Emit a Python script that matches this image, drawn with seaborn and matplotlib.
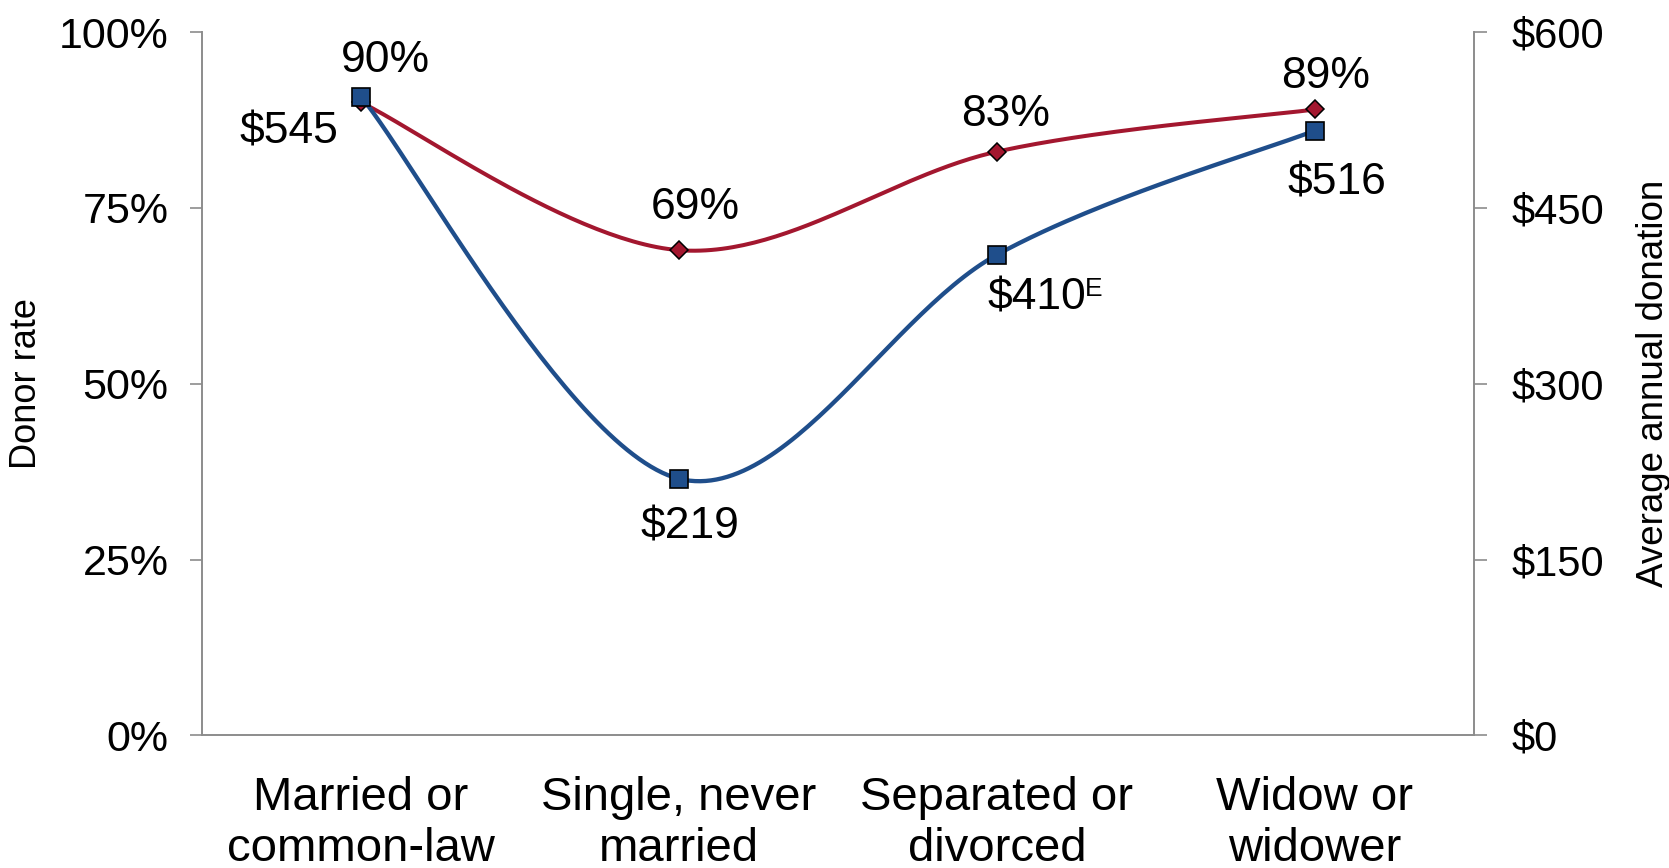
import numpy as np
import pandas as pd
import matplotlib
matplotlib.use("Agg")
import matplotlib.pyplot as plt
import seaborn as sns

# Data
categories = ["Married or\ncommon-law", "Single, never\nmarried", "Separated or\ndivorced", "Widow or\nwidower"]
donor_rate = [90, 69, 83, 89]          # percent
avg_donation = [545, 219, 410, 516]    # dollars
rate_labels = ["90%", "69%", "83%", "89%"]
donation_labels = ["$545", "$219", "$410", "$516"]
donation_flags = ["", "", "E", ""]
left_ticks = [0, 25, 50, 75, 100]
right_ticks = [0, 150, 300, 450, 600]

RED = "#A3172F"
BLUE = "#1F4E8B"
GREY = "#8C8C8C"

sns.set_theme(style="white")
plt.rcParams["font.family"] = ["Liberation Sans", "DejaVu Sans"]
plt.rcParams["text.color"] = "black"
plt.rcParams["axes.labelcolor"] = "black"


def smooth(xs, ys, n=60):
    """Catmull-Rom style Bezier smoothing through the given points."""
    xs = np.asarray(xs, float)
    ys = np.asarray(ys, float)
    pts = np.column_stack([xs, ys])
    out = []
    for i in range(len(pts) - 1):
        p0 = pts[i - 1] if i > 0 else pts[i]
        p1 = pts[i]
        p2 = pts[i + 1]
        p3 = pts[i + 2] if i + 2 < len(pts) else pts[i + 1]
        c1 = p1 + (p2 - p0) / 6.0
        c2 = p2 - (p3 - p1) / 6.0
        t = np.linspace(0, 1, n)[:, None]
        seg = ((1 - t) ** 3) * p1 + 3 * ((1 - t) ** 2) * t * c1 + 3 * (1 - t) * t ** 2 * c2 + t ** 3 * p2
        out.append(seg if i == 0 else seg[1:])
    seg = np.vstack(out)
    return seg[:, 0], seg[:, 1]


x = np.arange(len(categories))

fig = plt.figure(figsize=(16.69, 8.68), dpi=100)
ax = fig.add_axes([0.121, 0.1527, 0.762, 0.8103])
ax2 = ax.twinx()

# Donor rate (left axis)
sx, sy = smooth(x, donor_rate)
sns.lineplot(x=sx, y=sy, ax=ax, color=RED, linewidth=2.9, sort=False, estimator=None)
ax.plot(x, donor_rate, linestyle="none", marker="D", markersize=9, color=RED,
        markeredgecolor="black", markeredgewidth=1.1, zorder=5)

# Average donation (right axis)
bx, by = smooth(x, avg_donation)
sns.lineplot(x=bx, y=by, ax=ax2, color=BLUE, linewidth=3.1, sort=False, estimator=None)
ax2.plot(x, avg_donation, linestyle="none", marker="s", markersize=13, color=BLUE,
         markeredgecolor="black", markeredgewidth=1.2, zorder=5)

# Axes limits and ticks
ax.set_xlim(-0.5, len(categories) - 0.5)
ax.set_ylim(0, 100)
ax2.set_ylim(0, 600)
ax.set_yticks(left_ticks)
ax.set_yticklabels([f"{v}%" for v in left_ticks], fontsize=31)
ax2.set_yticks(right_ticks)
ax2.set_yticklabels([f"${v}" for v in right_ticks], fontsize=30)
ax.set_xticks(x)
ax.set_xticklabels(categories, fontsize=34, linespacing=1.22)
ax.set_xticks(np.arange(-0.5, len(categories)), minor=True)
ax.tick_params(axis="x", which="major", length=0, pad=29, labelcolor="black")
ax.tick_params(axis="x", which="minor", length=12, width=1.2, color=GREY, direction="out")
ax.tick_params(axis="y", length=9, width=1.2, color=GREY, direction="out", pad=15,
               left=True, labelcolor="black")
ax2.tick_params(axis="y", length=9, width=1.2, color=GREY, direction="out", pad=18,
                right=True, labelcolor="black")

for a in (ax, ax2):
    for s in a.spines.values():
        s.set_visible(False)
    a.grid(False)
ax.spines["left"].set_visible(True)
ax.spines["bottom"].set_visible(True)
ax2.spines["right"].set_visible(True)
for s in (ax.spines["left"], ax.spines["bottom"], ax2.spines["right"]):
    s.set_color(GREY)
    s.set_linewidth(1.4)

ax.set_ylabel("Donor rate", fontsize=26)
ax.yaxis.set_label_coords(-0.124, 0.5)
ax2.set_ylabel("Average annual donation", fontsize=26.5)
ax2.yaxis.set_label_coords(1.1274, 0.5)

# Value labels
rate_offsets = [(25, 42), (16, 43), (9, 37), (11, 33)]
for xi, v, lab, off in zip(x, donor_rate, rate_labels, rate_offsets):
    ax.annotate(lab, (xi, v), xytext=off, textcoords="offset pixels",
                ha="center", va="center", fontsize=32, zorder=6)

don_offsets = [(-72, -35), (11, -48), (40, -43), (22, -52)]
for xi, v, lab, flag, off in zip(x, avg_donation, donation_labels, donation_flags, don_offsets):
    ax2.annotate(lab, (xi, v), xytext=off, textcoords="offset pixels",
                 ha="center", va="center", fontsize=32, zorder=6)
    if flag:
        ax2.annotate(flag, (xi, v), xytext=(off[0] + 48, off[1] + 9), textcoords="offset pixels",
                     ha="left", va="center", fontsize=19, zorder=6)

fig.savefig("out.png", dpi=100, facecolor="white")
